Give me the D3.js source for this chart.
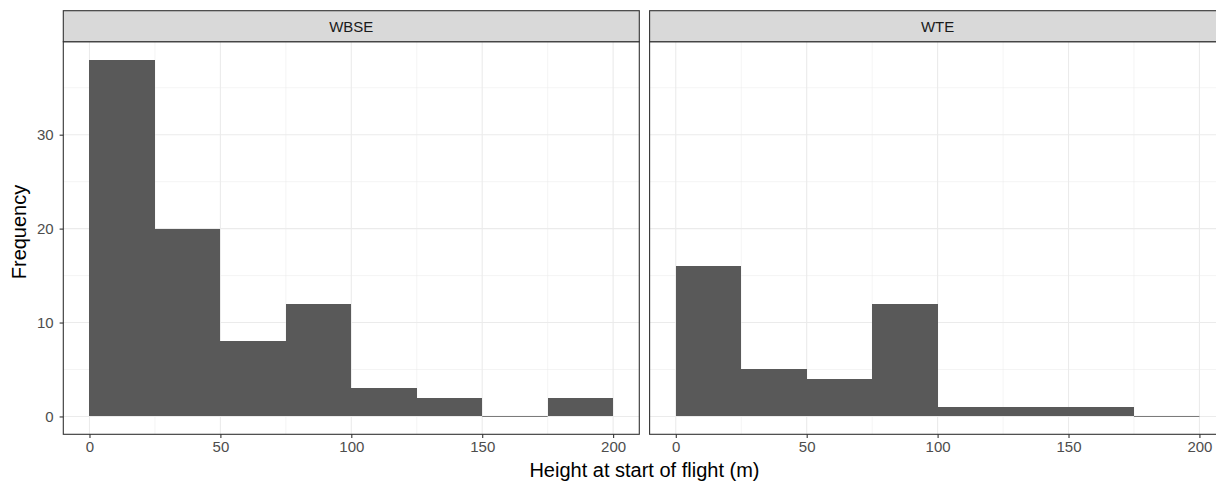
<!DOCTYPE html>
<html>
<head>
<meta charset="utf-8">
<script src="https://cdn.jsdelivr.net/npm/d3@7"></script>
<style>
  body { margin: 0; background: #fff; }
  svg { display: block; font-family: "Liberation Sans", Arial, Helvetica, sans-serif; }
</style>
</head>
<body>
<div id="chart"></div>
<script>
// Histogram of flight start heights, one facet per site (bins of 25 m).
const facets = ["WBSE", "WTE"];
const binStarts = [0, 25, 50, 75, 100, 125, 150, 175];
const binWidth = 25;
const countsWBSE = [38, 20, 8, 12, 3, 2, 0, 2];
const countsWTE = [16, 5, 4, 12, 1, 1, 1, 0];
const xTicks = [0, 50, 100, 150, 200];
const xMinor = [25, 75, 125, 175];
const yTicks = [0, 10, 20, 30];
const yMinor = [5, 15, 25, 35];

const countsByFacet = { WBSE: countsWBSE, WTE: countsWTE };

const width = 1216;
const height = 484;
const panelLeft = 63.3;
const panelWidth = 576;
const panelGap = 10.3;
const panelTop = 41.7;
const panelBottom = 434.3;
const stripTop = 10.7;
const tickFont = 15;
const titleFont = 20;

const svg = d3.select("#chart").append("svg")
    .attr("width", width)
    .attr("height", height);

const y = d3.scaleLinear().domain([-1.9, 39.9]).range([panelBottom, panelTop]);

const gridColor = "#EBEBEB";
const darkLine = "#333333";
const barFill = "#595959";

facets.forEach((facet, i) => {
    const left = panelLeft + i * (panelWidth + panelGap);
    const x = d3.scaleLinear().domain([-10, 210]).range([left, left + panelWidth]);
    const g = svg.append("g");

    // minor grid
    g.selectAll(".ymin").data(yMinor).join("line")
        .attr("x1", left).attr("x2", left + panelWidth)
        .attr("y1", d => y(d)).attr("y2", d => y(d))
        .attr("stroke", gridColor).attr("stroke-width", 0.55);
    g.selectAll(".xmin").data(xMinor).join("line")
        .attr("y1", panelTop).attr("y2", panelBottom)
        .attr("x1", d => x(d)).attr("x2", d => x(d))
        .attr("stroke", gridColor).attr("stroke-width", 0.55);
    // major grid
    g.selectAll(".ymaj").data(yTicks).join("line")
        .attr("x1", left).attr("x2", left + panelWidth)
        .attr("y1", d => y(d)).attr("y2", d => y(d))
        .attr("stroke", gridColor).attr("stroke-width", 1.1);
    g.selectAll(".xmaj").data(xTicks).join("line")
        .attr("y1", panelTop).attr("y2", panelBottom)
        .attr("x1", d => x(d)).attr("x2", d => x(d))
        .attr("stroke", gridColor).attr("stroke-width", 1.1);

    // bars
    const bins = binStarts.map((start, k) => ({ start, count: countsByFacet[facet][k] }));
    g.selectAll(".bar").data(bins.filter(b => b.count > 0)).join("rect")
        .attr("x", d => x(d.start))
        .attr("width", d => x(d.start + binWidth) - x(d.start))
        .attr("y", d => y(d.count))
        .attr("height", d => y(0) - y(d.count))
        .attr("fill", barFill)
        .attr("shape-rendering", "crispEdges");
    g.selectAll(".empty").data(bins.filter(b => b.count === 0)).join("line")
        .attr("x1", d => x(d.start)).attr("x2", d => x(d.start + binWidth))
        .attr("y1", y(0)).attr("y2", y(0))
        .attr("stroke", barFill).attr("stroke-width", 0.8);

    // panel border
    g.append("rect")
        .attr("x", left).attr("y", panelTop)
        .attr("width", panelWidth).attr("height", panelBottom - panelTop)
        .attr("fill", "none").attr("stroke", darkLine).attr("stroke-width", 1.1);

    // strip
    g.append("rect")
        .attr("x", left).attr("y", stripTop)
        .attr("width", panelWidth).attr("height", panelTop - stripTop)
        .attr("fill", "#D9D9D9").attr("stroke", darkLine).attr("stroke-width", 1.1);
    g.append("text")
        .attr("x", left + panelWidth / 2).attr("y", (stripTop + panelTop) / 2)
        .attr("dy", "0.36em")
        .attr("text-anchor", "middle")
        .attr("font-size", tickFont).attr("fill", "#1A1A1A")
        .text(facet);

    // x axis
    const xAxis = g.append("g")
        .attr("transform", `translate(0,${panelBottom})`)
        .call(d3.axisBottom(x).tickValues(xTicks).tickSize(3.7).tickPadding(3).tickFormat(d3.format("d")));
    xAxis.select(".domain").remove();
    xAxis.selectAll(".tick line").attr("stroke", darkLine).attr("stroke-width", 1.1);
    xAxis.selectAll(".tick text")
        .attr("font-size", tickFont).attr("fill", "#4D4D4D")
        .attr("font-family", "Liberation Sans, Arial, sans-serif");

    // y axis only on first panel
    if (i === 0) {
        const yAxis = g.append("g")
            .attr("transform", `translate(${left},0)`)
            .call(d3.axisLeft(y).tickValues(yTicks).tickSize(3.7).tickPadding(6));
        yAxis.select(".domain").remove();
        yAxis.selectAll(".tick line").attr("stroke", darkLine).attr("stroke-width", 1.1);
        yAxis.selectAll(".tick text")
            .attr("font-size", tickFont).attr("fill", "#4D4D4D")
            .attr("font-family", "Liberation Sans, Arial, sans-serif");
    }
});

// axis titles
const plotRight = panelLeft + 2 * panelWidth + panelGap;
svg.append("text")
    .attr("x", (panelLeft + plotRight) / 2)
    .attr("y", 477)
    .attr("text-anchor", "middle")
    .attr("font-size", titleFont)
    .attr("fill", "#000")
    .text("Height at start of flight (m)");

svg.append("text")
    .attr("transform", `translate(26,232) rotate(-90)`)
    .attr("text-anchor", "middle")
    .attr("font-size", titleFont)
    .attr("fill", "#000")
    .text("Frequency");
</script>
</body>
</html>
